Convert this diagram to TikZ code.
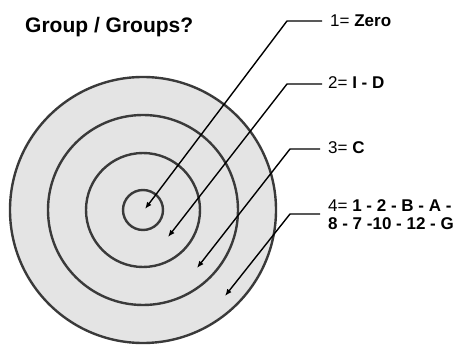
\documentclass[tikz,border=0pt]{standalone}
\usepackage{fontspec}
\setmainfont{Liberation Sans}
\usetikzlibrary{arrows.meta,calc}
\definecolor{ringfill}{HTML}{E4E4E4}
\definecolor{ringline}{HTML}{3A3A3A}
\begin{document}
\begin{tikzpicture}[x=1pt,y=-1pt,
  ring/.style={draw=ringline,line width=2.4pt},
  lab/.style={anchor=base west,inner sep=0pt,font=\fontsize{17}{18}\selectfont},
  pointer/.style={draw=black,line width=1.4pt,-{Latex[length=7pt,width=5.5pt]}}]
\useasboundingbox (0,0) rectangle (472,350);
\coordinate (c) at (143,210);
\fill[ringfill] (c) circle (133);
\draw[ring] (c) circle (133);
\draw[ring] (c) circle (95);
\draw[ring] (c) circle (57);
\draw[ring] (c) circle (20);
\node[anchor=base west,inner sep=0pt,font=\fontsize{21}{24}\selectfont\bfseries] (title) at (25,33) {Group / Groups?};
\node[lab] (l1) at (330,27) {1= \textbf{Zero}};
\node[lab] (l2) at (328,89) {2= \textbf{I - D}};
\node[lab] (l3) at (328,154) {3= \textbf{C}};
\node[lab] (l4) at (328,212) {4= \textbf{1 - 2 - B - A -}};
\node[lab] (l4b) at (328,230) {\textbf{8 - 7 -10 - 12 - G}};
\coordinate (t1) at (145,209);
\coordinate (t2) at (168,237);
\coordinate (t3) at (197,268);
\coordinate (t4) at (225,296);
\draw[pointer] ($(l1.base west)+(-8,-6)$) -- ++(-35,0) -- (t1);
\draw[pointer] ($(l2.base west)+(-6,-5)$) -- ++(-35,0) -- (t2);
\draw[pointer] ($(l3.base west)+(-8,-5)$) -- ++(-30,0) -- (t3);
\draw[pointer] ($(l4.base west)+(-8,2)$) -- ++(-30,0) -- (t4);
\end{tikzpicture}
\end{document}
